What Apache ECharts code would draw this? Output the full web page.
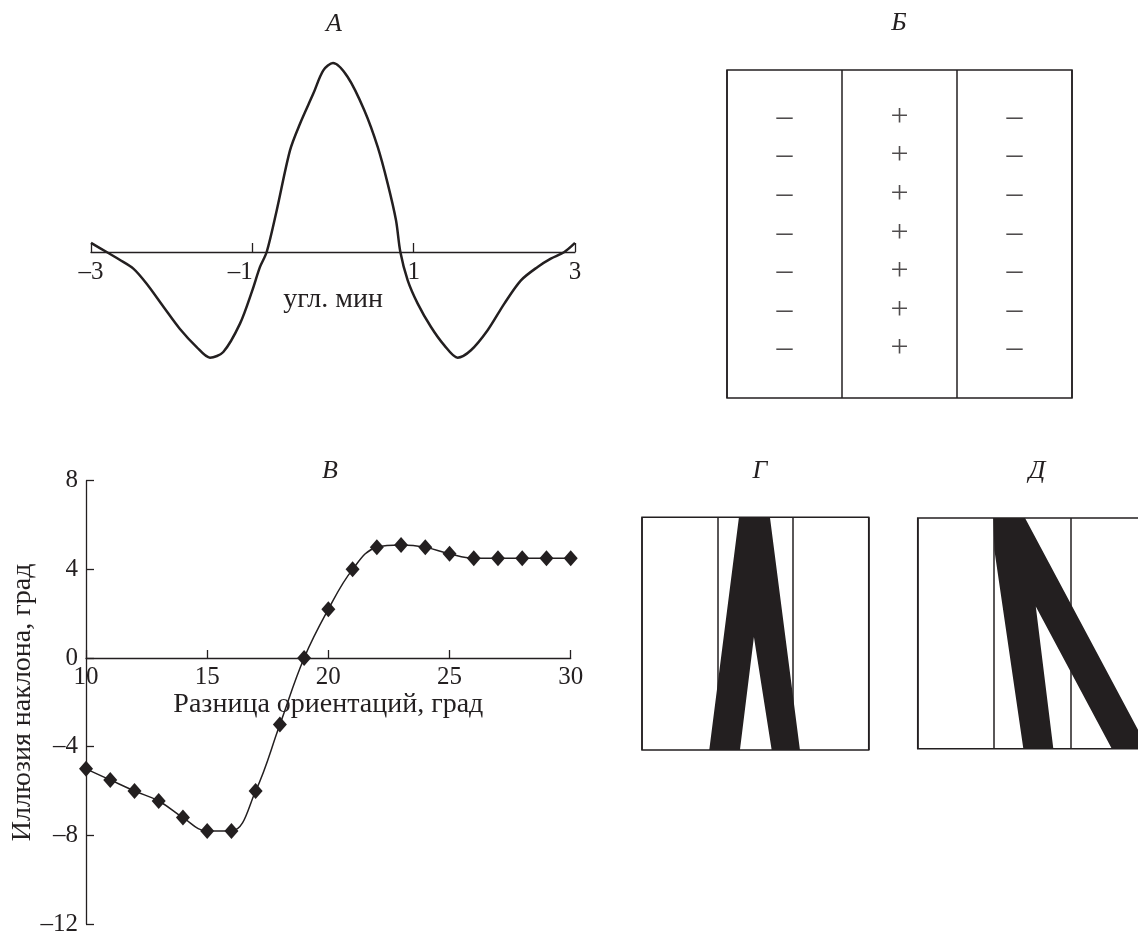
<!DOCTYPE html>
<html>
<head>
<meta charset="utf-8">
<script src="https://cdn.jsdelivr.net/npm/echarts@6/dist/echarts.min.js"></script>
<style>html,body{margin:0;padding:0;background:#fff}#c{width:1138px;height:934px}</style>
</head>
<body>
<div id="c"></div>
<script>
// ---- Panel А: receptive field profile ----
const aX = [-3, -2.806, -2.65, -2.475, -2.31, -2.10, -1.90, -1.69, -1.525, -1.36, -1.153, -1.0, -0.905, -0.822, -0.698, -0.533, -0.409, -0.244, -0.12, 0.0, 0.182, 0.388, 0.554, 0.678, 0.781, 0.835, 0.926, 1.05, 1.215, 1.38, 1.545, 1.71, 1.917, 2.124, 2.33, 2.537, 2.70, 2.868, 3.0];
const aY = [0.048, 0, -0.04, -0.088, -0.168, -0.291, -0.406, -0.503, -0.559, -0.529, -0.379, -0.203, -0.079, 0, 0.220, 0.538, 0.679, 0.838, 0.961, 1.0, 0.926, 0.750, 0.556, 0.362, 0.168, 0, -0.150, -0.273, -0.397, -0.494, -0.559, -0.520, -0.414, -0.273, -0.150, -0.079, -0.035, 0, 0.048];
const aTicks = [-3, -1, 1, 3];

// ---- Panel Б: sign map ----
const bColumns = [0.5, 1.5, 2.5];
const bSigns = ['–', '+', '–'];
const bRows = [1, 2, 3, 4, 5, 6, 7];

// ---- Panel В: tilt illusion ----
const vX = [10, 11, 12, 13, 14, 15, 16, 17, 18, 19, 20, 21, 22, 23, 24, 25, 26, 27, 28, 29, 30];
const vY = [-5.0, -5.5, -6.0, -6.45, -7.2, -7.8, -7.8, -6.0, -3.0, 0, 2.2, 4.0, 5.0, 5.1, 5.0, 4.7, 4.5, 4.5, 4.5, 4.5, 4.5];

// ---- Panel Г and Д: stimulus shapes (in cell units) ----
const gPolyX = [0.890, 1.283, 1.693, 2.090, 1.716, 1.481, 1.296];
const gPolyY = [0, 1, 1, 0, 0, 0.486, 0];
const dPolyX = [0.991, 1.406, 3.018, 2.543, 1.547, 1.777, 1.384, 1.005];
const dPolyY = [1, 1, 0, 0, 0.616, 0, 0, 0.86];

const FONT = "'Liberation Serif', 'DejaVu Serif', serif";
const INK = '#231f20';
const dash = v => String(v).replace('-', '–');

const chart = echarts.init(document.getElementById('c'), null, {renderer: 'canvas'});

function titleAt(text, x, y) {
  return {text, left: x, top: y, textAlign: 'center', padding: 0,
    textStyle: {fontFamily: FONT, fontStyle: 'italic', fontWeight: 'normal', fontSize: 26, color: INK}};
}
function boxXAxis(gi) {
  return {gridIndex: gi, type: 'value', min: 0, max: 3, interval: 1,
    axisLine: {show: false}, axisTick: {show: false}, axisLabel: {show: false},
    splitLine: {show: true, lineStyle: {color: INK, width: 1.5}}};
}
function polySeries(gi, xs, ys) {
  return {type: 'custom', xAxisIndex: gi, yAxisIndex: gi, silent: true, clip: false,
    data: [[xs[0], ys[0]]],
    renderItem: (params, api) => ({
      type: 'polygon',
      shape: {points: xs.map((x, i) => api.coord([x, ys[i]]))},
      style: {fill: INK}
    })};
}

const signData = [];
bColumns.forEach((c, ci) => bRows.forEach(r => signData.push({
  value: [c, r, bSigns[ci]],
  label: {fontSize: 32}
})));

const boxGrid = {show: true, borderColor: INK, borderWidth: 1.5, backgroundColor: 'transparent', outerBoundsMode: 'none', containLabel: false};

const option = {
  animation: false,
  backgroundColor: '#fff',
  textStyle: {fontFamily: FONT, color: INK},
  title: [
    titleAt('А', 334, 11),
    titleAt('Б', 899, 10),
    titleAt('В', 330, 458),
    titleAt('Г', 760, 458),
    titleAt('Д', 1037, 458)
  ],
  grid: [
    {left: 91, top: 53.55, width: 484, height: 311.85, outerBoundsMode: 'none', containLabel: false},
    Object.assign({left: 727, top: 70, width: 345, height: 328}, boxGrid),
    {left: 86, top: 480.7, width: 484.7, height: 443.3, outerBoundsMode: 'none', containLabel: false},
    Object.assign({left: 642, top: 517.3, width: 226.7, height: 232.7}, boxGrid),
    Object.assign({left: 917.7, top: 518, width: 229, height: 230.7}, boxGrid)
  ],
  xAxis: [
    {gridIndex: 0, type: 'value', min: -3, max: 3, offset: -113.4,
      axisLine: {show: true, onZero: false, lineStyle: {color: INK, width: 1.3}},
      axisTick: {show: true, inside: true, length: 9, customValues: aTicks, lineStyle: {color: INK, width: 1.3}},
      axisLabel: {show: true, customValues: aTicks, margin: 8, fontSize: 25, color: INK, fontFamily: FONT,
        formatter: v => v === -1 ? '{l|–1}' : dash(v),
        rich: {l: {fontSize: 25, fontFamily: FONT, color: INK, padding: [0, 24, 0, 0]}}},
      splitLine: {show: false},
      name: 'угл. мин', nameLocation: 'middle', nameGap: 31,
      nameTextStyle: {fontSize: 28, fontFamily: FONT, color: INK}},
    boxXAxis(1),
    {gridIndex: 2, type: 'value', min: 10, max: 30, interval: 5, offset: -266,
      axisLine: {show: true, onZero: false, lineStyle: {color: INK, width: 1.3}},
      axisTick: {show: true, inside: true, length: 8, lineStyle: {color: INK, width: 1.3}},
      axisLabel: {show: true, margin: 7, fontSize: 25, color: INK, fontFamily: FONT},
      splitLine: {show: false},
      name: 'Разница ориентаций, град', nameLocation: 'middle', nameGap: 31,
      nameTextStyle: {fontSize: 28, fontFamily: FONT, color: INK}},
    boxXAxis(3),
    boxXAxis(4)
  ],
  yAxis: [
    {gridIndex: 0, type: 'value', min: -0.6, max: 1.05, show: false},
    {gridIndex: 1, type: 'value', min: -0.27, max: 8.23, show: false},
    {gridIndex: 2, type: 'value', min: -12, max: 8, interval: 4,
      axisLine: {show: true, onZero: false, lineStyle: {color: INK, width: 1.3}},
      axisTick: {show: true, inside: true, length: 8, lineStyle: {color: INK, width: 1.3}},
      axisLabel: {show: true, margin: 8, fontSize: 25, color: INK, fontFamily: FONT, formatter: dash},
      splitLine: {show: false},
      name: 'Иллюзия наклона, град', nameLocation: 'middle', nameRotate: 90, nameGap: 48,
      nameTextStyle: {fontSize: 28, fontFamily: FONT, color: INK}},
    {gridIndex: 3, type: 'value', min: 0, max: 1, show: false},
    {gridIndex: 4, type: 'value', min: 0, max: 1, show: false}
  ],
  series: [
    {type: 'line', xAxisIndex: 0, yAxisIndex: 0, data: aX.map((x, i) => [x, aY[i]]),
      showSymbol: false, smooth: 0.3, lineStyle: {color: INK, width: 2.5}, silent: true},
    {type: 'scatter', xAxisIndex: 1, yAxisIndex: 1, data: signData, symbolSize: 0, silent: true,
      label: {show: true, position: 'inside', formatter: p => p.value[2], color: INK, fontFamily: FONT}},
    {type: 'line', xAxisIndex: 2, yAxisIndex: 2, data: vX.map((x, i) => [x, vY[i]]),
      smooth: 0.4, symbol: 'diamond', symbolSize: [14, 16], showAllSymbol: true,
      lineStyle: {color: INK, width: 1.5}, itemStyle: {color: INK}, silent: true},
    polySeries(3, gPolyX, gPolyY),
    polySeries(4, dPolyX, dPolyY)
  ]
};
chart.setOption(option);
</script>
</body>
</html>
